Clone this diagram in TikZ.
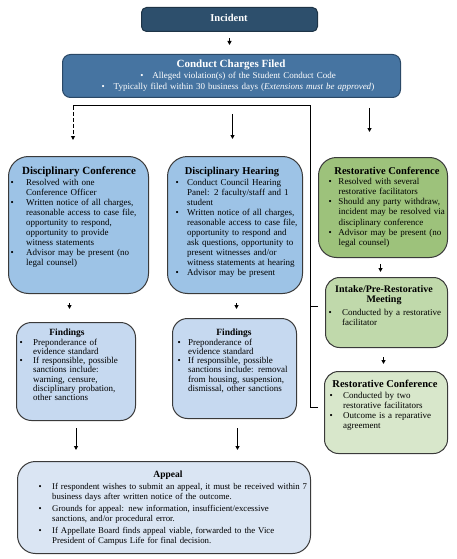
\documentclass[tikz,border=0pt]{standalone}
\usepackage{fontspec}
\setmainfont{Liberation Serif}
\usetikzlibrary{arrows.meta}
\definecolor{incfill}{HTML}{2D4F6C}
\definecolor{incdraw}{HTML}{1E3447}
\definecolor{ccffill}{HTML}{4674A1}
\definecolor{ccfdraw}{HTML}{2A4866}
\definecolor{dcfill}{HTML}{9DC3E6}
\definecolor{ffill}{HTML}{C6D9F0}
\definecolor{apfill}{HTML}{DAE5F3}
\definecolor{rconefill}{HTML}{9DC27B}
\definecolor{intfill}{HTML}{C0D9AB}
\definecolor{rctwofill}{HTML}{D8E7CB}
\definecolor{bord}{HTML}{3A3A3A}
\newlength{\bi}
\newcommand{\bul}[1]{\noindent\hangindent=\bi\hangafter=1\makebox[\bi][l]{\textbullet}#1\par}
\tikzset{
  box/.style={draw=bord, line width=1pt, inner sep=0pt, anchor=north west},
  ttl/.style={font=\fontsize{10.5}{12}\selectfont\bfseries, inner sep=0pt, anchor=base},
  sttl/.style={font=\fontsize{9.5}{10}\selectfont\bfseries, inner sep=0pt, anchor=base},
  body/.style={font=\fontsize{9}{10.1}\selectfont, inner sep=0pt, anchor=base west, align=left},
  arr/.style={-{Triangle[length=4pt,width=4pt]}, line width=1pt},
  link/.style={line width=1pt},
}
\begin{document}
\begin{tikzpicture}[x=1pt,y=-1pt]
\useasboundingbox (0,0) rectangle (456,559);
% boxes
\node[box, draw=incdraw, fill=incfill, rounded corners=5pt, minimum width=176pt, minimum height=24pt] (inc) at (141,7) {};
\node[box, draw=ccfdraw, fill=ccffill, rounded corners=8pt, minimum width=338pt, minimum height=43pt] (ccf) at (62,54) {};
\node[box, fill=dcfill, rounded corners=20pt, minimum width=140pt, minimum height=137pt] (dc) at (8,156) {};
\node[box, fill=dcfill, rounded corners=20pt, minimum width=135pt, minimum height=137pt] (dh) at (167,156) {};
\node[box, fill=rconefill, rounded corners=18pt, minimum width=129pt, minimum height=100pt] (rc1) at (318,157) {};
\node[box, fill=intfill, rounded corners=14pt, minimum width=122pt, minimum height=70pt] (int) at (325,277) {};
\node[box, fill=rctwofill, rounded corners=14pt, minimum width=123pt, minimum height=82pt] (rc2) at (324,371) {};
\node[box, fill=ffill, rounded corners=15pt, minimum width=119pt, minimum height=98pt] (f1) at (16,322) {};
\node[box, fill=ffill, rounded corners=15pt, minimum width=124pt, minimum height=100pt] (f2) at (172,318) {};
\node[box, fill=apfill, rounded corners=18pt, minimum width=293pt, minimum height=92pt] (ap) at (17,461) {};
% texts
\node[ttl, anchor=center, text=white] (inct) at (229,18) {Incident};
\node[ttl, font=\fontsize{11}{12}\selectfont\bfseries, text=white] (ccft) at (231,68) {Conduct Charges Filed};
\node[body, anchor=base, text width=300pt, align=center, text=white, font=\fontsize{9}{11}\selectfont] (ccfl) at (238,79) {\makebox[12pt][l]{\textbullet}Alleged violation(s) of the Student Conduct Code\\\makebox[12pt][l]{\textbullet}Typically filed within 30 business days (\textit{Extensions must be approved})};
\node[ttl, font=\fontsize{11}{12}\selectfont\bfseries] (dct) at (79,174.5) {Disciplinary Conference};
\node[body, text width=132pt] (dcb) at (10.5,185) {\setlength{\bi}{15.5pt}%
\bul{Resolved with one\newline Conference Officer}
\bul{Written notice of all charges,\newline reasonable access to case file,\newline opportunity to respond,\newline opportunity to provide\newline witness statements}
\bul{Advisor may be present (no\newline legal counsel)}};
\node[ttl] (dht) at (232,174.5) {Disciplinary Hearing};
\node[body, text width=125pt] (dhb) at (175.5,185) {\setlength{\bi}{11.5pt}%
\bul{Conduct Council Hearing\newline Panel: 2 faculty/staff and 1\newline student}
\bul{Written notice of all charges,\newline reasonable access to case file,\newline opportunity to respond and\newline ask questions, opportunity to\newline present witnesses and/or\newline witness statements at hearing}
\bul{Advisor may be present}};
\node[ttl] (rc1t) at (387,174) {Restorative Conference};
\node[body, text width=118pt, font=\fontsize{9}{10.3}\selectfont] (rc1b) at (328.5,184) {\setlength{\bi}{9.8pt}%
\bul{Resolved with several\newline restorative facilitators}
\bul{Should any party withdraw,\newline incident may be resolved via\newline disciplinary conference}
\bul{Advisor may be present (no\newline legal counsel)}};
\node[ttl, anchor=base, text width=120pt, align=center, font=\fontsize{10}{10.5}\selectfont\bfseries] (intt) at (384,292) {Intake/Pre-Restorative\\Meeting};
\node[body, text width=116pt] (intb) at (328.5,315) {\setlength{\bi}{13.5pt}%
\bul{Conducted by a restorative\newline facilitator}};
\node[ttl] (rc2t) at (385,387) {Restorative Conference};
\node[body, text width=116pt] (rc2b) at (329.5,398.5) {\setlength{\bi}{13.5pt}%
\bul{Conducted by two\newline restorative facilitators}
\bul{Outcome is a reparative\newline agreement}};
\node[sttl] (f1t) at (67,335.5) {Findings};
\node[body, text width=115pt, font=\fontsize{9}{9.3}\selectfont] (f1b) at (19.5,345) {\setlength{\bi}{13.5pt}%
\bul{Preponderance of\newline evidence standard}
\bul{If responsible, possible\newline sanctions include:\newline warning, censure,\newline disciplinary probation,\newline other sanctions}};
\node[sttl] (f2t) at (234,335) {Findings};
\node[body, text width=118pt, font=\fontsize{9}{9.3}\selectfont] (f2b) at (177.5,345) {\setlength{\bi}{10.5pt}%
\bul{Preponderance of\newline evidence standard}
\bul{If responsible, possible\newline sanctions include: removal\newline from housing, suspension,\newline dismissal, other sanctions}};
\node[sttl] (apt) at (168,477) {Appeal};
\node[body, text width=285pt, font=\fontsize{8.8}{10}\selectfont] (apb) at (38.5,489) {\setlength{\bi}{13.5pt}\setlength{\parskip}{2pt}%
\bul{If respondent wishes to submit an appeal, it must be received within 7\newline business days after written notice of the outcome.}
\bul{Grounds for appeal: new information, insufficient/excessive\newline sanctions, and/or procedural error.}
\bul{If Appellate Board finds appeal viable, forwarded to the Vice\newline President of Campus Life for final decision.}};
% connectors
\coordinate (jt) at (310,106);
\coordinate (jl) at (73,106);
\draw[arr, shorten <=6pt, shorten >=9pt] (inc.south) -- (inc.south |- ccf.north);
\draw[arr, shorten <=16pt, shorten >=17pt] ([xshift=-2.5pt]ccf.south -| dh.north) -- ([xshift=-2.5pt]dh.north);
\draw[arr, shorten <=10pt, shorten >=25pt] ([xshift=-13.5pt]ccf.south -| rc1.north) -- ([xshift=-13.5pt]rc1.north);
\draw[link, shorten <=6pt] ([yshift=5pt]rc2.west) -| (jt) -- (jl);
\draw[link, shorten <=7pt] ([yshift=6pt]int.west) -- ([yshift=6pt]int.west -| jt);
\draw[arr, dash pattern=on 4pt off 2pt, shorten >=16pt] (jl) -- (jl |- dc.north);
\draw[arr, shorten <=9pt, shorten >=13pt] ([xshift=-9pt]dc.south) -- ([xshift=-9pt]dc.south |- f1.north);
\draw[arr, shorten <=9pt, shorten >=9pt] ([xshift=1.5pt]dh.south) -- ([xshift=1.5pt]dh.south |- f2.north);
\draw[arr, shorten <=7pt, shorten >=11pt] (f1.south) -- (f1.south |- ap.north);
\draw[arr, shorten <=9pt, shorten >=11pt] ([xshift=3pt]f2.south) -- ([xshift=3pt]f2.south |- ap.north);
\draw[arr, shorten <=6pt, shorten >=5pt] ([xshift=-2.5pt]rc1.south) -- ([xshift=-2.5pt]rc1.south |- int.north);
\draw[arr, shorten <=9pt, shorten >=7pt] ([xshift=-3pt]int.south) -- ([xshift=-3pt]int.south |- rc2.north);
\end{tikzpicture}
\end{document}
